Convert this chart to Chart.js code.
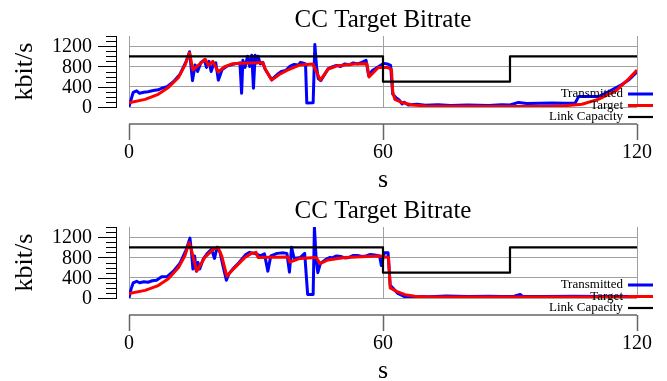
<!DOCTYPE html>
<html>
<head>
<meta charset="utf-8">
<script src="https://cdn.jsdelivr.net/npm/chart.js@4.4.1/dist/chart.umd.min.js"></script>
<style>
  html, body { margin: 0; padding: 0; background: #fff; }
  #wrap { position: relative; width: 667px; height: 381px; }
  canvas { position: absolute; left: 0; }
</style>
</head>
<body>
<div id="wrap">
  <canvas id="panelTop" width="667" height="190" style="top:0"></canvas>
  <canvas id="panelBottom" width="667" height="190" style="top:191px"></canvas>
</div>
<script>
// ticks
const xTicks = [0, 60, 120];
const yTicks = [0, 400, 800, 1200];
const yMinorTicks = [100, 200, 300, 500, 600, 700, 900, 1000, 1100, 1300, 1400];
const seriesNames = ["Transmitted", "Target", "Link Capacity"];

// link capacity (same in both runs)
const capTime = [0, 60, 90, 120];
const capRate = [1000, 500, 1000, 1000];

// top run
const topTxTime = [0, 0.5, 1, 1.8, 2.5, 3.5, 4.5, 5.5, 6.1, 7, 7.7, 9, 10.5, 12, 13.5, 14.3, 15, 15.6, 16.2, 17,
  17.8, 18.3, 18.9, 19.4, 20, 20.5, 21.1, 22, 23, 24.5, 25.5, 26.2, 26.6, 26.9, 27.4, 28, 28.5, 29, 29.4, 29.8,
  30.2, 30.5, 31, 31.6, 32.2, 33.7, 35, 36, 37, 38, 39, 40, 40.5, 41, 41.7, 42, 43.5, 43.9, 44.3, 44.7,
  45.3, 47, 48, 49, 50, 51, 52, 53, 54, 55, 56, 56.6, 57.5, 59, 60.2, 61, 61.8, 62.3, 63, 63.8,
  64.5, 65, 66, 68, 70, 73, 76, 80, 85, 88, 90, 92, 94, 97, 100, 103, 105.4, 106.2, 110.9, 113,
  116, 118, 120];
const topTxRate = [0, 150, 290, 320, 270, 290, 300, 320, 330, 340, 370, 400, 500, 640, 900, 1090, 520, 830, 700, 880,
  930, 780, 900, 700, 850, 870, 530, 740, 800, 840, 860, 870, 270, 920, 780, 1000, 800, 1020, 370, 1020,
  870, 1000, 850, 880, 740, 540, 640, 700, 720, 800, 840, 830, 880, 870, 850, 80, 85, 1230, 800, 560,
  520, 750, 790, 820, 800, 850, 830, 870, 850, 880, 920, 620, 720, 800, 860, 850, 820, 250, 190, 140,
  60, 95, 40, 55, 35, 45, 30, 40, 30, 45, 40, 90, 70, 75, 80, 75, 80, 205, 205, 290,
  420, 530, 690];
const topTargetTime = [0, 3.8, 6.9, 9.3, 11.7, 13.2, 14.3, 15.1, 18, 18.8, 19.8, 21.1, 22.5, 24.5, 28, 31.6, 32.1, 33.7, 35.5, 37.3,
  40.4, 43.4, 45.2, 47.1, 49.3, 53.4, 56.2, 56.7, 58.9, 61, 62, 62.3, 62.8, 64.4, 67, 70, 80, 90, 100, 103,
  107, 111, 115, 118, 120];
const topTargetRate = [85, 150, 250, 385, 585, 820, 1070, 730, 940, 820, 900, 690, 790, 855, 870, 875, 760, 530, 640, 720,
  830, 850, 530, 750, 815, 850, 855, 590, 780, 780, 740, 300, 150, 90, 40, 20, 15, 12, 15, 25,
  55, 155, 320, 550, 730];

// bottom run
const botTxTime = [0, 0.5, 1, 1.8, 2.5, 3.5, 4.5, 5.5, 6.5, 7.7, 9, 10.5, 12, 13.5, 14.4, 14.8, 15.1, 15.5, 15.9, 16.3,
  16.7, 17.5, 18.5, 19.5, 20.2, 20.8, 21.5, 22.3, 23, 23.6, 24.5, 26, 27.5, 28.5, 29.5, 30.3, 31, 32, 32.8, 33.5,
  35, 36.5, 37.3, 37.9, 38.4, 39, 40.5, 41.5, 42.2, 43.5, 43.8, 44.2, 44.6, 45.2, 46.5, 47.5, 48, 49, 50, 51,
  52, 53, 54, 55, 56, 57, 58, 59.2, 59.6, 60.3, 61.2, 61.7, 62.5, 63.5, 64.5, 65.2, 68, 71, 75, 80,
  85, 88, 91, 92.4, 93, 98, 105, 112, 120];
const botTxRate = [0, 180, 300, 330, 300, 320, 310, 340, 350, 420, 420, 530, 680, 950, 1180, 870, 570, 830, 530, 700,
  570, 760, 880, 960, 780, 1000, 900, 600, 350, 480, 570, 700, 850, 900, 880, 860, 830, 870, 530, 830,
  880, 890, 880, 510, 1000, 780, 800, 880, 70, 70, 1400, 780, 500, 680, 760, 800, 790, 830, 820, 790,
  800, 840, 840, 820, 830, 860, 850, 830, 640, 890, 890, 250, 180, 90, 50, 20, 30, 25, 40, 30,
  35, 30, 35, 70, 30, 30, 35, 30, 30];
const botTargetTime = [0, 3.8, 6.9, 9.3, 11.7, 13.2, 14.2, 14.8, 16, 17.9, 19.9, 21, 21.9, 23.1, 25, 27.4, 28.9, 30, 30.5, 37.6,
  38, 40.4, 43.9, 44.3, 45.1, 47, 51, 55, 59.3, 61.3, 61.7, 63.2, 65.2, 67.5, 70, 120];
const botTargetRate = [90, 150, 245, 380, 600, 830, 1090, 930, 530, 800, 960, 1000, 830, 430, 600, 800, 880, 900, 800, 810,
  710, 780, 800, 790, 680, 750, 800, 815, 830, 800, 200, 130, 65, 35, 20, 20];

const FONT = "'Liberation Serif', 'Times New Roman', serif";

function toPoints(times, rates) {
  return times.map((t, i) => ({ x: t, y: rates[i] }));
}

// axes drawn a little away from the plot, plus the legend
const detachedAxes = {
  id: "detachedAxes",
  afterDraw(chart) {
    const { ctx, chartArea, scales: { x, y } } = chart;
    ctx.save();

    // y axis
    const ax = chartArea.left - 13;
    ctx.strokeStyle = "#000";
    ctx.lineWidth = 1;
    ctx.beginPath();
    ctx.moveTo(ax + 0.5, y.getPixelForValue(y.max));
    ctx.lineTo(ax + 0.5, y.getPixelForValue(0));
    yTicks.forEach(v => {
      const py = Math.round(y.getPixelForValue(v)) + 0.5;
      ctx.moveTo(ax - 18, py);
      ctx.lineTo(ax + 1, py);
    });
    yMinorTicks.forEach(v => {
      const py = Math.round(y.getPixelForValue(v)) + 0.5;
      ctx.moveTo(ax - 10, py);
      ctx.lineTo(ax + 1, py);
    });
    ctx.stroke();

    ctx.fillStyle = "#000";
    ctx.font = "20px " + FONT;
    ctx.textAlign = "right";
    ctx.textBaseline = "middle";
    yTicks.forEach(v => ctx.fillText(String(v), ax - 24, y.getPixelForValue(v) + 1));

    // x axis
    const ay = chartArea.bottom + 17;
    ctx.strokeStyle = "#666";
    ctx.lineWidth = 1.5;
    ctx.beginPath();
    ctx.moveTo(x.getPixelForValue(0), ay);
    ctx.lineTo(x.getPixelForValue(120), ay);
    xTicks.forEach(v => {
      const px = Math.round(x.getPixelForValue(v)) + 0.5;
      ctx.moveTo(px, ay);
      ctx.lineTo(px, ay + 16);
    });
    ctx.stroke();

    ctx.textAlign = "center";
    xTicks.forEach(v => ctx.fillText(String(v), x.getPixelForValue(v), ay + 29));

    // axis titles
    ctx.font = "26px " + FONT;
    ctx.fillText("s", x.getPixelForValue(60), ay + 56);
    ctx.save();
    ctx.translate(25, (chartArea.top + chartArea.bottom) / 2);
    ctx.rotate(-Math.PI / 2);
    ctx.fillText("kbit/s", 0, 0);
    ctx.restore();

    // legend, bottom right, over the plot
    ctx.font = "13px " + FONT;
    ctx.textAlign = "right";
    const rows = [chartArea.bottom - 13, chartArea.bottom - 1.5, chartArea.bottom + 10];
    chart.data.datasets.forEach((ds, i) => {
      ctx.fillStyle = "#000";
      ctx.fillText(ds.label, 623, rows[i]);
      ctx.strokeStyle = ds.borderColor;
      ctx.lineWidth = ds.borderWidth;
      ctx.beginPath();
      ctx.moveTo(628, rows[i]);
      ctx.lineTo(653, rows[i]);
      ctx.stroke();
    });
    ctx.restore();
  }
};

function makePanel(id, txTime, txRate, targetTime, targetRate) {
  return new Chart(document.getElementById(id), {
    type: "line",
    data: {
      datasets: [
        { label: seriesNames[0], data: toPoints(txTime, txRate), borderColor: "#0000ff", borderWidth: 3, order: 2 },
        { label: seriesNames[1], data: toPoints(targetTime, targetRate), borderColor: "#ff0000", borderWidth: 3, order: 1 },
        { label: seriesNames[2], data: toPoints(capTime, capRate), borderColor: "#000000", borderWidth: 2.2, stepped: true, order: 0 }
      ]
    },
    options: {
      responsive: false,
      animation: false,
      devicePixelRatio: 1,
      elements: { point: { radius: 0 }, line: { tension: 0, borderJoinStyle: "round" } },
      layout: { autoPadding: false, padding: { left: 129, right: 30, top: 0, bottom: 83 } },
      scales: {
        x: {
          type: "linear", min: 0, max: 120,
          afterBuildTicks: s => { s.ticks = xTicks.map(v => ({ value: v })); },
          ticks: { display: false },
          grid: { color: "#a0a0a0", lineWidth: 1, drawTicks: false },
          border: { display: false }
        },
        y: {
          type: "linear", min: 0, max: 1400,
          afterBuildTicks: s => { s.ticks = yTicks.map(v => ({ value: v })); },
          ticks: { display: false },
          grid: { color: "#a0a0a0", lineWidth: 1, drawTicks: false },
          border: { display: false }
        }
      },
      plugins: {
        legend: { display: false },
        tooltip: { enabled: false },
        title: {
          display: true,
          text: "CC Target Bitrate",
          color: "#000",
          font: { family: FONT, size: 25, weight: "normal" },
          padding: { top: 5, bottom: 1 }
        }
      }
    },
    plugins: [detachedAxes]
  });
}

makePanel("panelTop", topTxTime, topTxRate, topTargetTime, topTargetRate);
makePanel("panelBottom", botTxTime, botTxRate, botTargetTime, botTargetRate);
</script>
</body>
</html>
